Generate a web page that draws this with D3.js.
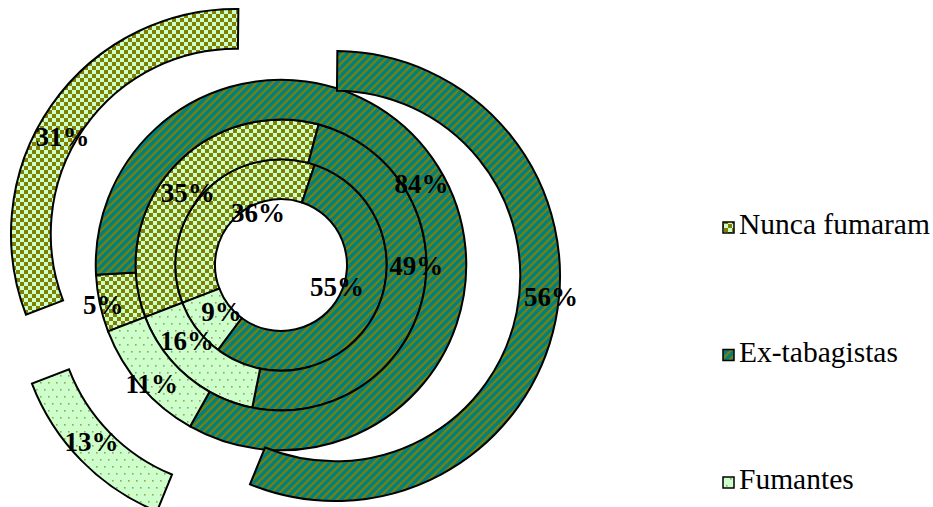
<!DOCTYPE html>
<html><head><meta charset="utf-8">
<script src="https://cdn.jsdelivr.net/npm/d3@7"></script>
<style>html,body{margin:0;padding:0;background:#fff;overflow:hidden}</style>
</head><body>
<svg id="chart" width="933" height="507"></svg>
<script>
// ---- data ----
const categories = ["Nunca fumaram", "Ex-tabagistas", "Fumantes"];
const ring1 = [36, 55, 9];   // innermost
const ring2 = [35, 49, 16];
const ring3 = [5, 84, 11];
const ring4 = [31, 56, 13];  // outermost (exploded)
const rings = [ring1, ring2, ring3, ring4];

// ---- layout / style ----
const cx = 281, cy = 265;
const startDeg = 249;
const explodedRing = 3;
const explode = 55;
const patIds = ["pNunca", "pEx", "pFum"];
// manual label nudges (dx, dy) relative to the slice centroid, like dragged labels in the original
const labelNudge = [
  [[39, 7], [-20, -18], [9, -5]],
  [[0, 12], [13, -28], [-13, -20]],
  [[-16, 5], [0, 6], [-4, 10]],
  [[-5, 20], [15, -20], [-4, -5]]
];

const svg = d3.select("#chart");
const defs = svg.append("defs");
const olive = "#808000", light = "#CCFFCC", teal = "#008080";

function makePattern(id, w, h, bg) {
  const p = defs.append("pattern").attr("id", id).attr("patternUnits", "userSpaceOnUse")
    .attr("width", w).attr("height", h);
  p.append("rect").attr("width", w).attr("height", h).attr("fill", bg);
  return p;
}

// checkerboard
const pc = makePattern("pNunca", 8, 8, light);
pc.append("rect").attr("width", 4).attr("height", 4).attr("fill", olive);
pc.append("rect").attr("x", 4).attr("y", 4).attr("width", 4).attr("height", 4).attr("fill", olive);

// upward diagonal stripes (olive bands on teal)
const ps = makePattern("pEx", 8, 8, teal);
ps.append("path").attr("d", "M0,0 L3,0 L0,3 Z M8,0 L8,3 L3,8 L0,8 Z").attr("fill", olive);

// sparse dots
const pd = makePattern("pFum", 8, 14, light);
pd.append("rect").attr("x", 2).attr("y", 2).attr("width", 1.6).attr("height", 1.6).attr("fill", "#9aa84a");
pd.append("rect").attr("x", 6).attr("y", 9).attr("width", 1.6).attr("height", 1.6).attr("fill", "#9aa84a");

const radius = d3.scaleLinear().domain([0, rings.length]).range([66, 225]);
const a0 = startDeg * Math.PI / 180;
const pie = d3.pie().sort(null).value(d => d).startAngle(a0).endAngle(a0 + 2 * Math.PI);

const g = svg.append("g").attr("transform", `translate(${cx},${cy})`);
const labels = [];

rings.forEach((vals, k) => {
  const arcs = pie(vals);
  const arc = d3.arc().innerRadius(radius(k)).outerRadius(radius(k + 1));
  arcs.forEach((a, i) => {
    const mid = (a.startAngle + a.endAngle) / 2;
    const off = k === explodedRing ? explode : 0;
    const dx = Math.round(off * Math.sin(mid)), dy = Math.round(-off * Math.cos(mid));
    g.append("path")
      .attr("d", arc(a))
      .attr("transform", `translate(${dx},${dy})`)
      .attr("fill", `url(#${patIds[i]})`)
      .attr("stroke", "#000")
      .attr("stroke-width", 2);
    const c = arc.centroid(a);
    labels.push({
      x: c[0] + dx + labelNudge[k][i][0],
      y: c[1] + dy + labelNudge[k][i][1],
      text: vals[i] + "%"
    });
  });
});

g.selectAll("text.lbl").data(labels).enter().append("text")
  .attr("class", "lbl")
  .attr("x", d => d.x).attr("y", d => d.y).attr("dy", "0.35em")
  .attr("text-anchor", "middle")
  .attr("font-family", "'Liberation Serif', 'Times New Roman', serif")
  .attr("font-weight", "bold")
  .attr("font-size", 27)
  .attr("fill", "#000")
  .text(d => d.text);

// legend
const legendY = d3.scalePoint().domain(categories).range([234, 489]);
const lg = svg.append("g");
categories.forEach((c, i) => {
  const y = legendY(c);
  lg.append("rect").attr("x", 723).attr("y", y - 12).attr("width", 11).attr("height", 11)
    .attr("fill", `url(#${patIds[i]})`).attr("stroke", "#000").attr("stroke-width", 1.5);
  lg.append("text").attr("x", 739).attr("y", y)
    .attr("font-family", "'Liberation Serif', 'Times New Roman', serif")
    .attr("font-size", 29.5).attr("fill", "#000").text(c);
});
</script>
</body></html>
